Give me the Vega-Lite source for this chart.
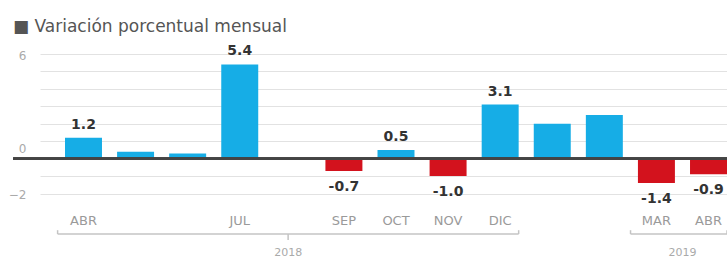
{
  "$schema": "https://vega.github.io/schema/vega-lite/v6.json",
  "width": 687,
  "height": 157,
  "autosize": {"type": "none"},
  "padding": {"left": 40, "top": 54, "right": 0, "bottom": 50},
  "background": "white",
  "config": {"view": {"stroke": null}, "font": "DejaVu Sans"},
  "title": {
    "text": "■ Variación porcentual mensual",
    "anchor": "start",
    "frame": "group",
    "dx": -27,
    "fontSize": 17,
    "fontWeight": "normal",
    "color": "#555",
    "font": "DejaVu Sans",
    "offset": 8
  },
  "datasets": {
    "meses": [
      {"mes": "ABR 2018", "valor": 1.2, "etiqueta": "1.2"},
      {"mes": "MAY 2018", "valor": 0.4, "etiqueta": ""},
      {"mes": "JUN 2018", "valor": 0.3, "etiqueta": ""},
      {"mes": "JUL 2018", "valor": 5.4, "etiqueta": "5.4"},
      {"mes": "AGO 2018", "valor": 0.0, "etiqueta": ""},
      {"mes": "SEP 2018", "valor": -0.7, "etiqueta": "-0.7"},
      {"mes": "OCT 2018", "valor": 0.5, "etiqueta": "0.5"},
      {"mes": "NOV 2018", "valor": -1.0, "etiqueta": "-1.0"},
      {"mes": "DIC 2018", "valor": 3.1, "etiqueta": "3.1"},
      {"mes": "ENE 2019", "valor": 2.0, "etiqueta": ""},
      {"mes": "FEB 2019", "valor": 2.5, "etiqueta": ""},
      {"mes": "MAR 2019", "valor": -1.4, "etiqueta": "-1.4"},
      {"mes": "ABR 2019", "valor": -0.9, "etiqueta": "-0.9"}
    ],
    "anios": [
      {"anio": "2018", "desde": "ABR 2018", "hasta": "DIC 2018"},
      {"anio": "2019", "desde": "MAR 2019", "hasta": "ABR 2019"}
    ]
  },
  "layer": [
    {
      "data": {"name": "meses"},
      "mark": {"type": "bar"},
      "encoding": {
        "x": {
          "field": "mes",
          "type": "ordinal",
          "sort": null,
          "scale": {
            "domain": ["ABR 2018", "MAY 2018", "JUN 2018", "JUL 2018", "AGO 2018", "SEP 2018", "OCT 2018", "NOV 2018", "DIC 2018", "ENE 2019", "FEB 2019", "MAR 2019", "ABR 2019"],
            "paddingInner": 0.29,
            "paddingOuter": 0.24,
            "align": 1
          },
          "axis": {
            "title": null,
            "orient": "bottom",
            "domain": false,
            "ticks": false,
            "grid": false,
            "labelAngle": 0,
            "labelPadding": 3,
            "labelFontSize": 13,
            "labelColor": "#9a9a9a",
            "labelFont": "DejaVu Sans",
            "labelOverlap": false,
            "labelExpr": "indexof(['ABR 2018','JUL 2018','SEP 2018','OCT 2018','NOV 2018','DIC 2018','MAR 2019','ABR 2019'], datum.value) >= 0 ? split(datum.value, ' ')[0] : ''"
          }
        },
        "y": {
          "field": "valor",
          "type": "quantitative",
          "scale": {"domain": [-3, 6], "nice": false, "zero": false},
          "axis": {
            "title": null,
            "values": [-2, -1, 0, 1, 2, 3, 4, 5, 6],
            "tickCount": 20,
            "format": "d",
            "grid": true,
            "gridColor": "#e2e2e2",
            "gridWidth": 1,
            "domain": false,
            "ticks": false,
            "labelOverlap": false,
            "labelBound": false,
            "labelPadding": 14,
            "labelFontSize": 12,
            "labelColor": "#aaaaaa",
            "labelOffset": {"condition": {"test": "datum.value === 0", "value": -10}, "value": 1},
            "labelExpr": "datum.value === 6 || datum.value === 0 || datum.value === -2 ? datum.label : ''"
          }
        },
        "color": {
          "condition": {"test": "datum.valor < 0", "value": "#d3121d"},
          "value": "#16ade6"
        }
      }
    },
    {
      "data": {"name": "meses"},
      "mark": {"type": "rule", "color": "#444444", "strokeWidth": 2},
      "encoding": {
        "x": {"datum": "ABR 2018", "type": "ordinal", "bandPosition": -1.4},
        "x2": {"datum": "ABR 2019", "bandPosition": 1},
        "y": {"datum": 0}
      }
    },
    {
      "data": {"name": "meses"},
      "transform": [{"filter": "datum.etiqueta != '' && datum.valor > 0"}],
      "mark": {"type": "text", "fontWeight": "bold", "fontSize": 14, "color": "#333333", "baseline": "middle", "dy": -13, "font": "DejaVu Sans"},
      "encoding": {
        "x": {"field": "mes", "type": "ordinal", "sort": null},
        "y": {"field": "valor", "type": "quantitative"},
        "text": {"field": "etiqueta"}
      }
    },
    {
      "data": {"name": "meses"},
      "transform": [{"filter": "datum.etiqueta != '' && datum.valor < 0"}],
      "mark": {"type": "text", "fontWeight": "bold", "fontSize": 14, "color": "#333333", "baseline": "middle", "dy": 16, "font": "DejaVu Sans"},
      "encoding": {
        "x": {"field": "mes", "type": "ordinal", "sort": null},
        "y": {"field": "valor", "type": "quantitative"},
        "text": {"field": "etiqueta"}
      }
    },
    {
      "data": {"name": "anios"},
      "mark": {"type": "rule", "color": "#c4c4c4", "strokeWidth": 1.5},
      "encoding": {
        "x": {"field": "desde", "type": "ordinal", "sort": null, "bandPosition": -0.2},
        "x2": {"field": "hasta", "bandPosition": 1},
        "y": {"datum": -4.32}
      }
    },
    {
      "data": {"name": "anios"},
      "mark": {"type": "rule", "color": "#c4c4c4", "strokeWidth": 1.5},
      "encoding": {
        "x": {"field": "desde", "type": "ordinal", "sort": null, "bandPosition": -0.2},
        "y": {"datum": -4.32},
        "y2": {"datum": -4.1}
      }
    },
    {
      "data": {"name": "anios"},
      "mark": {"type": "rule", "color": "#c4c4c4", "strokeWidth": 1.5},
      "encoding": {
        "x": {"field": "hasta", "type": "ordinal", "sort": null, "bandPosition": 1},
        "y": {"datum": -4.32},
        "y2": {"datum": -4.1}
      }
    },
    {
      "data": {"name": "anios"},
      "transform": [{"filter": "datum.anio == '2018'"}],
      "mark": {"type": "rule", "color": "#c4c4c4", "strokeWidth": 1.5},
      "encoding": {
        "x": {"datum": "AGO 2018", "type": "ordinal", "bandPosition": 0.4},
        "y": {"datum": -4.32},
        "y2": {"datum": -4.66}
      }
    },
    {
      "data": {"name": "anios"},
      "transform": [{"filter": "datum.anio == '2018'"}],
      "mark": {"type": "text", "fontSize": 11, "color": "#aaaaaa", "baseline": "middle", "font": "DejaVu Sans"},
      "encoding": {
        "x": {"datum": "AGO 2018", "type": "ordinal", "bandPosition": 0.4},
        "y": {"datum": -5.4},
        "text": {"field": "anio"}
      }
    },
    {
      "data": {"name": "anios"},
      "transform": [{"filter": "datum.anio == '2019'"}],
      "mark": {"type": "text", "fontSize": 11, "color": "#aaaaaa", "baseline": "middle", "font": "DejaVu Sans"},
      "encoding": {
        "x": {"datum": "ABR 2019", "type": "ordinal", "bandPosition": -0.2},
        "y": {"datum": -5.4},
        "text": {"field": "anio"}
      }
    }
  ]
}
